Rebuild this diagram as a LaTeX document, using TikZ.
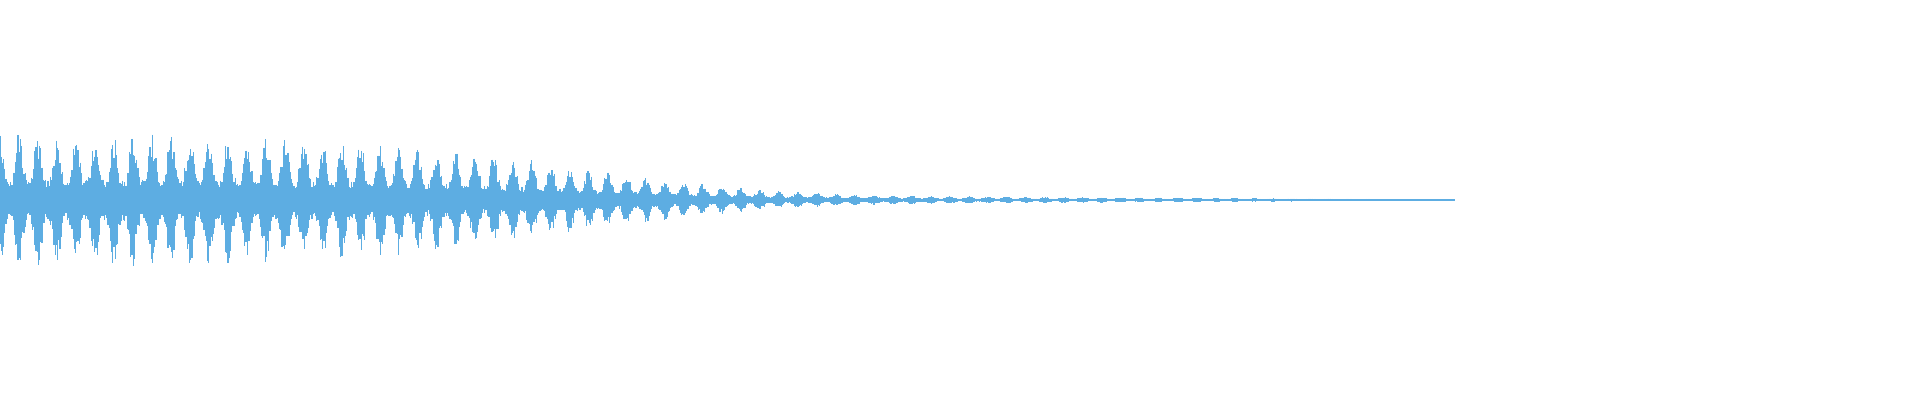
\documentclass[tikz,border=0pt]{standalone}
\definecolor{wave}{RGB}{93,173,226}
\begin{document}
\begin{tikzpicture}[x=0.5pt,y=0.5pt,
  declare function={env(\x)=58*exp(-((\x/620)^4))+9*(1-\x/1460);
    pat(\x)=0.3+0.7*(0.5+0.5*cos(360*mod(\x,19)/19))^1.5;}]
\useasboundingbox (0,0) rectangle (1920,400);
\pgfmathsetseed{7}
\foreach \i in {0,...,1212}{
  \pgfmathsetmacro{\xx}{\i*1.2}
  \pgfmathsetmacro{\a}{env(\xx)*pat(\xx)*(0.6+0.4*rnd)+0.6}
  \pgfmathsetmacro{\b}{env(\xx)*pat(\xx)*(0.6+0.4*rnd)+0.6}
  \draw[wave,line width=0.6pt] (\xx,200+\a) -- (\xx,200-\b);
}
\end{tikzpicture}
\end{document}
